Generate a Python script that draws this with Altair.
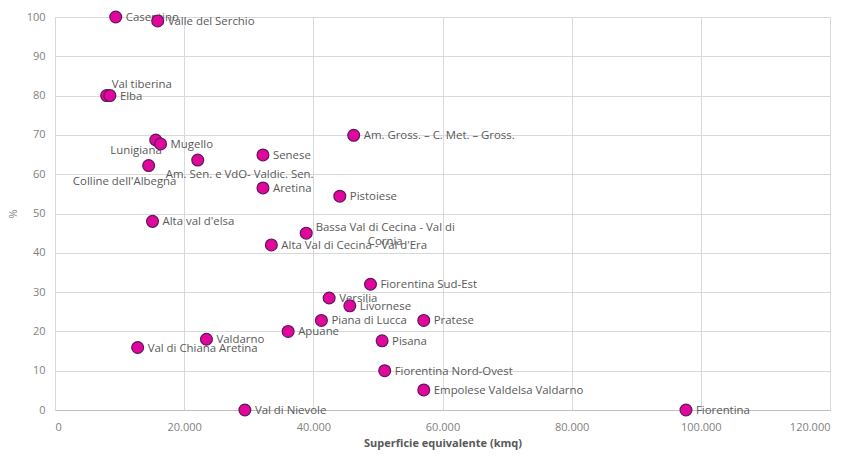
import json
import altair as alt
import pandas as pd

names = [
    "Casentino", "Valle del Serchio", "Val tiberina", "Elba", "Lunigiana", "Mugello",
    "Colline dell'Albegna", "Am. Sen. e VdO- Valdic. Sen.", "Senese", "Aretina",
    "Am. Gross. – C. Met. – Gross.", "Pistoiese", "Bassa Val di Cecina - Val di Cornia",
    "Alta Val di Cecina - Val d'Era", "Alta val d'elsa", "Val di Chiana Aretina", "Valdarno",
    "Val di Nievole", "Apuane", "Fiorentina Sud-Est", "Versilia", "Livornese",
    "Piana di Lucca", "Pratese", "Pisana", "Fiorentina Nord-Ovest",
    "Empolese Valdelsa Valdarno", "Fiorentina",
]
superficie = [
    9400, 15900, 8000, 8500, 15600, 16350,
    14500, 22100, 32200, 32200,
    46250, 44100, 38900,
    33500, 15100, 12800, 23450,
    29400, 36100, 48850, 42450, 45650,
    41250, 57100, 50650, 51050,
    57100, 97700,
]
percent = [
    100, 99, 80, 80, 68.7, 67.7,
    62.2, 63.6, 64.9, 56.5,
    69.9, 54.4, 45.0,
    42.0, 48.0, 15.9, 18.0,
    0, 20.0, 32.0, 28.5, 26.5,
    22.8, 22.8, 17.6, 10.0,
    5.1, 0,
]

df = pd.DataFrame({"name": names, "x": superficie, "y": percent})

TXT = "#595959"
AX = "#7f7f7f"
GRID = "#d9d9d9"
FONT = "Open Sans"
FS = 11.4

base = alt.Chart(df).encode(
    x=alt.X(
        "x:Q",
        scale=alt.Scale(domain=[0, 120000], nice=False),
        axis=alt.Axis(
            values=list(range(0, 120001, 20000)),
            labelExpr="replace(format(datum.value, ','), ',', '.')",
            title="Superficie equivalente (kmq)",
            titleFontWeight="bold",
            titleColor=TXT,
            titleFont=FONT,
            titleFontSize=11,
            titlePadding=5,
            labelColor=AX,
            labelFont=FONT,
            labelFontSize=11,
            labelPadding=11,
            ticks=False,
            grid=True,
            gridColor=GRID,
            domainColor="#bfbfbf",
        ),
    ),
    y=alt.Y(
        "y:Q",
        scale=alt.Scale(domain=[0, 100], nice=False),
        axis=alt.Axis(
            values=list(range(0, 101, 10)),
            title="%",
            titleColor=AX,
            titleFont=FONT,
            titleFontSize=11,
            titleFontWeight="normal",
            titlePadding=8,
            labelColor=AX,
            labelFont=FONT,
            labelFontSize=11,
            labelPadding=10,
            ticks=False,
            grid=True,
            gridColor=GRID,
            domainColor=GRID,
        ),
    ),
)

special = [
    "Val tiberina", "Lunigiana", "Colline dell'Albegna",
    "Am. Sen. e VdO- Valdic. Sen.", "Bassa Val di Cecina - Val di Cornia",
]

default_labels = base.transform_filter(
    "indexof(" + json.dumps(special) + ", datum.name) < 0"
).mark_text(
    align="left", baseline="middle", dx=10, dy=1, font=FONT, fontSize=FS, color=TXT
).encode(text="name:N")


def lab(name, align, dx, dy, calc=None):
    c = base.transform_filter(alt.FieldEqualPredicate(field="name", equal=name))
    if calc:
        c = c.transform_calculate(lbl=calc)
        field = "lbl:N"
    else:
        field = "name:N"
    return c.mark_text(
        align=align, baseline="middle", dx=dx, dy=dy, font=FONT, fontSize=FS,
        color=TXT, lineBreak="\n", lineHeight=14,
    ).encode(text=field)


special_labels = [
    lab("Val tiberina", "left", 5, -11),
    lab("Lunigiana", "right", 6, 11),
    lab("Colline dell'Albegna", "center", -24, 16),
    lab("Am. Sen. e VdO- Valdic. Sen.", "center", 42, 15),
    lab("Bassa Val di Cecina - Val di Cornia", "center", 79, -5,
        calc="replace(datum.name, ' Cornia', '\\nCornia')"),
]

points = base.mark_point(
    filled=True, shape="circle", size=140, fill="#E2079B", stroke="#5E1660",
    strokeWidth=1.2, opacity=1,
)

chart = alt.layer(default_labels, *special_labels, points).properties(
    width=775,
    height=393,
    autosize=alt.AutoSizeParams(type="none"),
    padding={"left": 47, "top": 9, "right": 16, "bottom": 40},
).configure_view(stroke=None)

chart.save("out.html", embed_options={"renderer": "svg", "actions": False})
